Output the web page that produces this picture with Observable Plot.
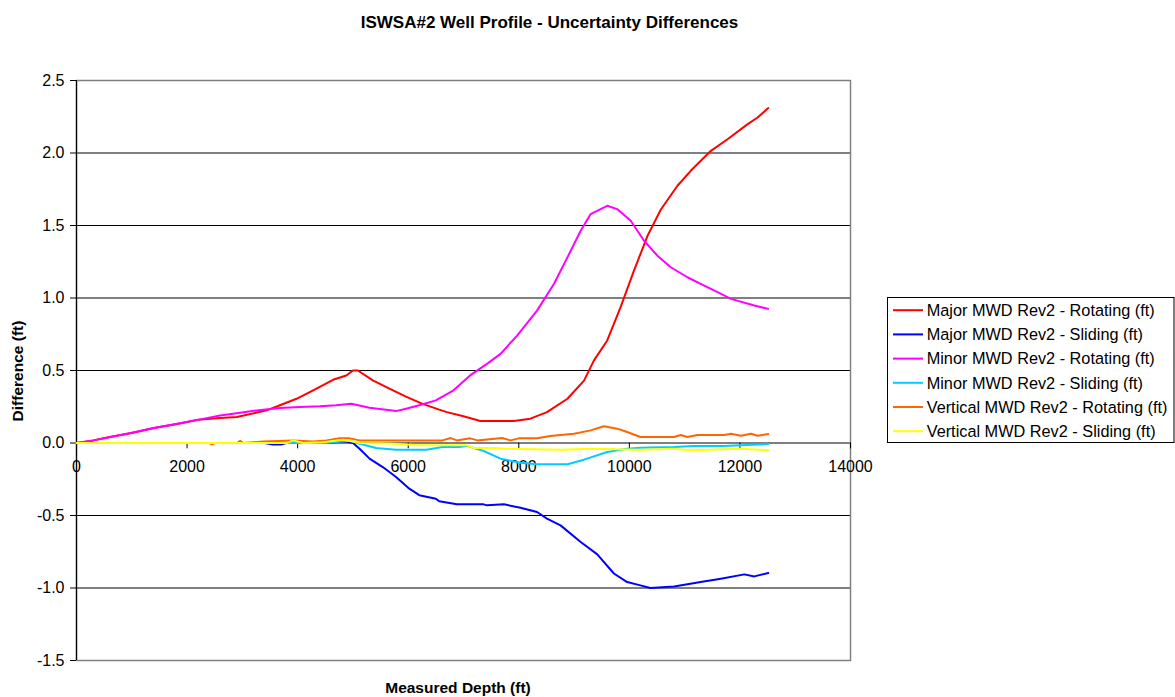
<!DOCTYPE html>
<html><head><meta charset="utf-8">
<script src="https://cdn.jsdelivr.net/npm/d3@7"></script>
<script src="https://cdn.jsdelivr.net/npm/@observablehq/plot@0.6"></script>
<style>
body{margin:0;background:#fff;font-family:"Liberation Sans",Arial,sans-serif;}
#wrap{position:relative;width:1175px;height:697px;overflow:hidden;background:#fff}
#chart{position:absolute;left:0;top:0}
.title{position:absolute;left:0;width:1099px;top:13.7px;text-align:center;font-weight:bold;font-size:17px;line-height:17px;color:#000;white-space:nowrap}
.xtitle{position:absolute;left:0;width:916px;top:679.7px;text-align:center;font-weight:bold;font-size:15.5px;line-height:15.5px;color:#000;white-space:nowrap}
.ytitle{position:absolute;left:-82.5px;width:200px;top:363px;height:16px;line-height:16px;text-align:center;font-weight:bold;font-size:15.5px;color:#000;transform:rotate(-90deg);white-space:nowrap}
#legend{position:absolute;left:0;top:0}
</style></head>
<body><div id="wrap">
<div id="chart"></div>
<div class="title">ISWSA#2 Well Profile - Uncertainty Differences</div>
<div class="xtitle">Measured Depth (ft)</div>
<div class="ytitle">Difference (ft)</div>
<svg id="legend" width="1175" height="697"></svg>
</div>
<script>
// ---- data ----
const seriesNames = [
  "Major MWD Rev2 - Rotating (ft)",
  "Major MWD Rev2 - Sliding (ft)",
  "Minor MWD Rev2 - Rotating (ft)",
  "Minor MWD Rev2 - Sliding (ft)",
  "Vertical MWD Rev2 - Rotating (ft)",
  "Vertical MWD Rev2 - Sliding (ft)"
];
const seriesColors = ["#FF0000", "#0000FF", "#FF00FF", "#00CCFF", "#FF6600", "#FFFF00"];

const majorRotDepth = [0, 300, 600, 1000, 1400, 1800, 2200, 2420, 2600, 2900, 3440, 3680, 3980, 4280, 4640, 4880, 5000, 5090, 5360, 5660, 5960, 6260, 6560, 6700, 7000, 7305, 7910, 8210, 8510, 8880, 9180, 9360, 9600, 9840, 10085, 10330, 10570, 10870, 11110, 11475, 11776, 12140, 12320, 12513];
const majorRot = [0, 0.018, 0.041, 0.069, 0.103, 0.13, 0.16, 0.167, 0.172, 0.18, 0.225, 0.26, 0.305, 0.363, 0.436, 0.466, 0.50, 0.50, 0.432, 0.375, 0.32, 0.27, 0.23, 0.213, 0.184, 0.152, 0.152, 0.168, 0.213, 0.305, 0.43, 0.57, 0.707, 0.936, 1.19, 1.43, 1.61, 1.774, 1.877, 2.015, 2.095, 2.199, 2.245, 2.31];

const majorSlideDepth = [0, 3400, 3550, 3700, 3800, 4000, 4500, 4880, 5000, 5120, 5300, 5540, 5780, 6020, 6200, 6500, 6560, 6880, 7365, 7425, 7730, 8030, 8330, 8510, 8755, 9120, 9420, 9720, 9960, 10200, 10380, 10810, 11290, 11655, 12080, 12260, 12513];
const majorSlide = [0, 0, -0.01, -0.01, 0, 0, 0, 0.01, 0, -0.04, -0.108, -0.166, -0.234, -0.315, -0.36, -0.384, -0.402, -0.423, -0.423, -0.43, -0.423, -0.446, -0.476, -0.522, -0.568, -0.683, -0.768, -0.9, -0.959, -0.982, -1.0, -0.989, -0.959, -0.936, -0.906, -0.92, -0.897];

const minorRotDepth = [0, 318, 620, 980, 1400, 1820, 2240, 2600, 2960, 3380, 3680, 4040, 4400, 4700, 4970, 5300, 5600, 5780, 5960, 6200, 6500, 6820, 7120, 7425, 7670, 7970, 8330, 8635, 8880, 9120, 9300, 9480, 9600, 9780, 10025, 10266, 10507, 10749, 11050, 11290, 11595, 11837, 12260, 12513];
const minorRot = [0, 0.018, 0.041, 0.069, 0.103, 0.133, 0.163, 0.19, 0.209, 0.23, 0.241, 0.248, 0.253, 0.26, 0.271, 0.243, 0.23, 0.22, 0.236, 0.26, 0.294, 0.363, 0.466, 0.546, 0.615, 0.741, 0.913, 1.097, 1.28, 1.464, 1.579, 1.613, 1.636, 1.613, 1.533, 1.395, 1.292, 1.212, 1.143, 1.097, 1.04, 0.994, 0.948, 0.925];

const minorSlideDepth = [0, 4500, 4800, 4950, 5120, 5420, 5780, 6330, 6620, 6920, 7060, 7365, 7670, 8030, 8330, 8880, 9180, 9600, 9960, 10200, 10810, 11170, 11715, 12020, 12513];
const minorSlide = [0, 0, 0.01, 0.015, -0.005, -0.034, -0.046, -0.046, -0.028, -0.028, -0.02, -0.055, -0.108, -0.136, -0.147, -0.147, -0.115, -0.062, -0.04, -0.032, -0.028, -0.02, -0.02, -0.016, -0.007];

const vertRotDepth = [0, 2400, 2450, 2500, 2900, 2960, 3020, 3380, 3920, 4280, 4520, 4760, 4940, 5120, 6620, 6770, 6880, 7120, 7250, 7700, 7850, 8000, 8330, 8570, 9000, 9300, 9540, 9780, 9960, 10200, 10810, 10930, 11050, 11230, 11715, 11837, 12020, 12200, 12320, 12513];
const vertRot = [0, 0, -0.01, 0, 0, 0.014, 0, 0.01, 0.018, 0.011, 0.018, 0.032, 0.032, 0.018, 0.018, 0.034, 0.018, 0.032, 0.018, 0.034, 0.018, 0.032, 0.032, 0.048, 0.064, 0.087, 0.115, 0.099, 0.076, 0.041, 0.041, 0.055, 0.041, 0.055, 0.055, 0.064, 0.05, 0.064, 0.05, 0.062];

const vertSlideDepth = [0, 3800, 3920, 4100, 4460, 4820, 5000, 5120, 5660, 6200, 6580, 7060, 7180, 7550, 7790, 8755, 9300, 10200, 10810, 11110, 12020, 12513];
const vertSlide = [0, 0, 0.018, 0, 0.005, 0.023, 0.01, 0, -0.003, -0.016, -0.016, -0.016, -0.034, -0.034, -0.04, -0.046, -0.04, -0.046, -0.04, -0.05, -0.04, -0.05];

const xTicks = [0, 2000, 4000, 6000, 8000, 10000, 12000, 14000];
const yTicks = [-1.5, -1.0, -0.5, 0.0, 0.5, 1.0, 1.5, 2.0, 2.5];
const yGrid = [-1.0, -0.5, 0.0, 0.5, 1.0, 1.5, 2.0];

// ---- build long table ----
const depthArrays = [majorRotDepth, majorSlideDepth, minorRotDepth, minorSlideDepth, vertRotDepth, vertSlideDepth];
const valueArrays = [majorRot, majorSlide, minorRot, minorSlide, vertRot, vertSlide];
const rows = [];
seriesNames.forEach((name, s) => {
  depthArrays[s].forEach((d, i) => rows.push({series: name, depth: d, value: valueArrays[s][i]}));
});

const chart = Plot.plot({
  width: 1175,
  height: 697,
  marginLeft: 76,
  marginRight: 325,
  marginTop: 80,
  marginBottom: 37,
  style: {fontFamily: "Liberation Sans, Arial, sans-serif", fontSize: "16px", color: "#000", background: "#fff"},
  x: {domain: [0, 14000], axis: null},
  y: {domain: [-1.5, 2.5]},
  color: {domain: seriesNames, range: seriesColors},
  marks: [
    Plot.ruleY(yGrid, {y: d => d, stroke: "#000", strokeWidth: 1}),
    Plot.frame({stroke: "#808080", strokeWidth: 1.5}),
    Plot.ruleX([0], {stroke: "#000", strokeWidth: 1.2}),
    Plot.axisY(yTicks, {tickFormat: d => d.toFixed(1), tickSize: 6, tickPadding: 6, fontSize: 16, label: null}),
    Plot.ruleX(xTicks, {x: d => d, y1: 0, y2: -0.04, stroke: "#000"}),
    Plot.text(xTicks, {x: d => d, y: 0, dy: 24.3, text: d => String(d), fontSize: 16}),
    Plot.line(rows, {x: "depth", y: "value", z: "series", stroke: "series", strokeWidth: 2, curve: "linear"})
  ]
});
document.getElementById("chart").appendChild(chart);

// ---- legend ----
const lg = d3.select("#legend");
lg.append("rect").attr("x", 887.5).attr("y", 297.5).attr("width", 286.5).attr("height", 145)
  .attr("fill", "#fff").attr("stroke", "#000").attr("stroke-width", 1);
const rowY = [310.2, 334.4, 358.6, 382.8, 407.0, 431.2];
seriesNames.forEach((name, i) => {
  lg.append("line").attr("x1", 893).attr("x2", 923).attr("y1", rowY[i]).attr("y2", rowY[i])
    .attr("stroke", seriesColors[i]).attr("stroke-width", 2);
  lg.append("text").attr("x", 926.7).attr("y", rowY[i] + 5.8)
    .attr("font-family", "Liberation Sans, Arial, sans-serif").attr("font-size", 16.3)
    .attr("fill", "#000").text(name);
});
</script>
</body></html>
